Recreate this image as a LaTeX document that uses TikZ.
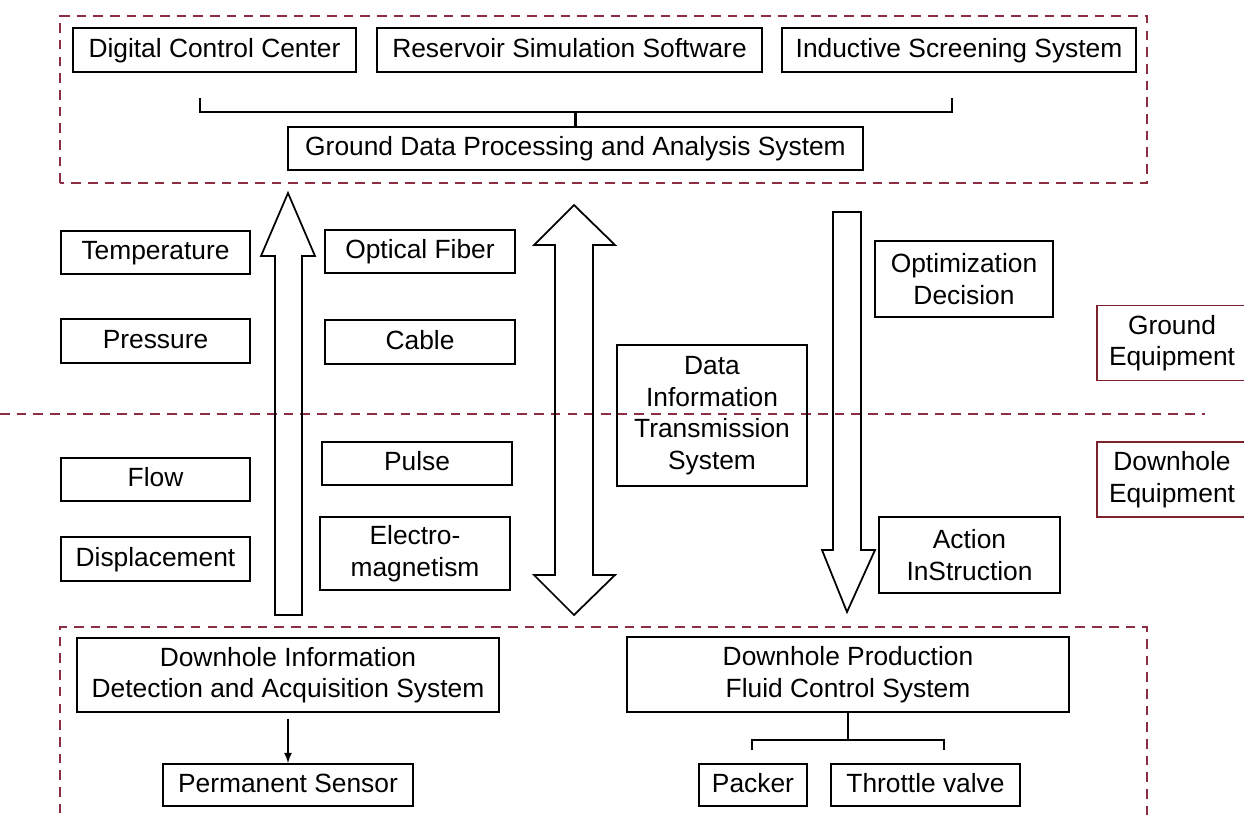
\documentclass[tikz,border=0pt]{standalone}
\usepackage{fontspec}
\setmainfont{Liberation Sans}
\usepackage{xcolor}
\definecolor{dashred}{RGB}{140,45,65}
\definecolor{labelred}{RGB}{125,35,45}

\begin{document}
\begin{tikzpicture}[x=0.02cm,y=-0.02cm,
    box/.style={draw, line width=1pt, align=center, inner sep=0pt,
                font=\fontsize{15}{18}\selectfont, minimum height=0.87cm},
    onebox/.style={box, text height=11pt, text depth=3pt},
    sidebox/.style={box, draw=labelred},
    bigarrow/.style={draw, line width=1pt, line join=miter},
    redline/.style={draw=dashred, line width=1.3pt, dash pattern=on 5.5pt off 4pt}]
\useasboundingbox (0,0) rectangle (1244,816);
% the two dashed frames and the ground/downhole border
\draw[redline] (60,183) -- (60,16) -- (1147,16) -- (1147,183) -- cycle;
\draw[redline] (60,830) -- (60,627) -- (1147,627) -- (1147,830);
\draw[redline] (0,414) -- (1205,414);

% ground data system
\node[onebox, minimum width=5.66cm] (dcc) at (214.5,50) {Digital Control Center};
\node[onebox, minimum width=7.7cm] (rss) at (569.5,50) {Reservoir Simulation Software};
\node[onebox, minimum width=7.08cm] (iss) at (959,50) {Inductive Screening System};
\node[onebox, minimum width=11.5cm] (gdp) at (575.5,148.5) {Ground Data Processing and Analysis System};
\coordinate (tl) at (200,98);
\coordinate (tr) at (952,98);
\coordinate (jt) at (575.5,112);
\draw[line width=1.2pt] (tl) |- (jt) -| (tr);
\draw[line width=1.2pt] (jt) -- (gdp.north);

% measured quantities
\node[onebox, minimum width=3.78cm] (temp) at (155.5,252.5) {Temperature};
\node[onebox, minimum width=3.78cm] (pres) at (155.5,341) {Pressure};
\node[onebox, minimum width=3.78cm] (flow) at (155.5,479.5) {Flow};
\node[onebox, minimum width=3.78cm] (disp) at (155.5,559) {Displacement};

% transmission media
\node[onebox, minimum width=3.8cm] (fiber) at (420,251.5) {Optical Fiber};
\node[onebox, minimum width=3.8cm, minimum height=0.88cm] (cable) at (420,342) {Cable};
\node[onebox, minimum width=3.8cm] (pulse) at (417,463.5) {Pulse};
\node[box, minimum width=3.8cm, minimum height=1.46cm] (emag) at (415,553.5) {Electro-\\magnetism};

\node[box, minimum width=3.8cm, minimum height=2.82cm] (dits) at (712,415.5) {Data\\Information\\Transmission\\System};
\node[box, minimum width=3.56cm, minimum height=1.52cm] (opt) at (964,279) {Optimization\\Decision};
\node[box, minimum width=3.62cm, minimum height=1.52cm] (act) at (969.5,555) {Action\\InStruction};

\node[sidebox, minimum width=3.0cm, minimum height=1.5cm] (geq) at (1172,343) {Ground\\Equipment};
\node[sidebox, minimum width=3.0cm, minimum height=1.5cm] (deq) at (1172,479.5) {Downhole\\Equipment};

% hollow arrows
\draw[bigarrow] (275,615) -- (275,256) -- (261,256) -- (288,193) -- (315,256)
    -- (302,256) -- (302,615) -- cycle;
\draw[bigarrow] (555,245) -- (534,245) -- (574,205) -- (615,245) -- (593,245)
    -- (593,575) -- (615,575) -- (574,615) -- (534,575) -- (555,575) -- cycle;
\draw[bigarrow] (833,212) -- (861,212) -- (861,550) -- (875,550) -- (847,612)
    -- (822,550) -- (833,550) -- cycle;

% downhole systems
\node[box, minimum width=8.44cm, minimum height=1.48cm] (ddas) at (288,675) {Downhole Information\\Detection and Acquisition System};
\node[onebox, minimum width=5.0cm, minimum height=0.84cm] (psen) at (288,785) {Permanent Sensor};
\draw[-latex, line width=1pt] (psen.north |- ddas.south) ++(0,6) -- (psen.north);

\node[box, minimum width=8.84cm, minimum height=1.5cm] (dpfc) at (848,674.5) {Downhole Production\\Fluid Control System};
\node[onebox, minimum width=2.16cm, minimum height=0.84cm] (pack) at (753,785) {Packer};
\node[onebox, minimum width=3.78cm, minimum height=0.84cm] (thr) at (925.5,785) {Throttle valve};
\coordinate (bl) at (752,750);
\coordinate (br) at (944,750);
\coordinate (jb) at (848,740);
\draw[line width=1.2pt] (bl) |- (jb) -| (br);
\draw[line width=1.2pt] (jb) -- (jb |- dpfc.south);
\end{tikzpicture}
\end{document}
